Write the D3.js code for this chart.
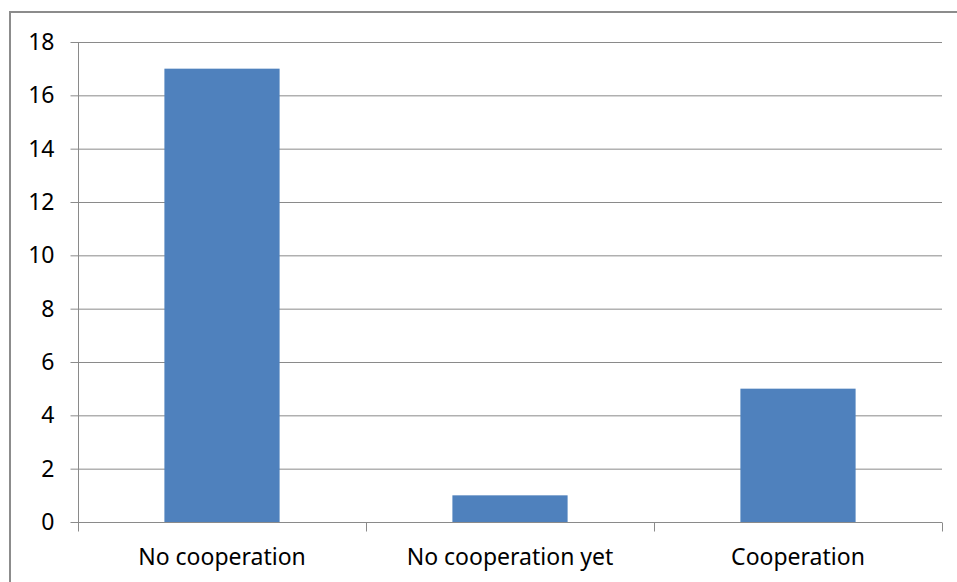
<!DOCTYPE html>
<html>
<head>
<meta charset="utf-8">
<script src="https://cdn.jsdelivr.net/npm/d3@7"></script>
<style>
  body { margin: 0; background: #fff; }
  svg { display: block; }
  text { font-family: "Noto Sans", "Open Sans", sans-serif; fill: #000; }
</style>
</head>
<body>
<div id="chart"></div>
<script>
var categories = ["No cooperation", "No cooperation yet", "Cooperation"];
var values = [17, 1, 5];
var yTicks = [0, 2, 4, 6, 8, 10, 12, 14, 16, 18];

var width = 957, height = 582;
var margin = { top: 42, right: 15, bottom: 60, left: 78 };

var svg = d3.select('#chart').append('svg')
    .attr('width', width)
    .attr('height', height);

// outer frame (runs off the right and bottom)
svg.append('rect')
    .attr('x', 10).attr('y', 12)
    .attr('width', width + 10).attr('height', height + 10)
    .attr('fill', 'none')
    .attr('stroke', '#8c8c8c')
    .attr('stroke-width', 2);

var x = d3.scaleBand()
    .domain(categories)
    .range([margin.left, width - margin.right])
    .paddingInner(0.6)
    .paddingOuter(0.3);

var y = d3.scaleLinear()
    .domain([0, 18])
    .range([height - margin.bottom, margin.top]);

// gridlines
svg.append('g')
    .selectAll('line')
    .data(yTicks.filter(function (d) { return d > 0; }))
    .enter()
    .append('line')
    .attr('x1', margin.left).attr('x2', width - margin.right)
    .attr('y1', function (d) { return y(d) + 0.5; })
    .attr('y2', function (d) { return y(d) + 0.5; })
    .attr('stroke', '#8a8a8a')
    .attr('stroke-width', 1);

// bars
svg.append('g')
    .selectAll('rect')
    .data(values)
    .enter()
    .append('rect')
    .attr('x', function (d, i) { return x(categories[i]); })
    .attr('width', x.bandwidth())
    .attr('y', function (d) { return y(d); })
    .attr('height', function (d) { return y(0) - y(d); })
    .attr('fill', '#4f81bd');

// y axis
var yAxis = svg.append('g')
    .attr('transform', 'translate(' + (margin.left + 0.5) + ',0)')
    .call(d3.axisLeft(y).tickValues(yTicks).tickSize(8).tickPadding(16));
yAxis.selectAll('line, path').attr('stroke', '#8a8a8a');
yAxis.selectAll('text').style('font-size', '23px');
yAxis.select('.domain').attr('d', 'M0,' + y(18) + 'V' + y(0));

// x axis with ticks between categories
var xg = svg.append('g')
    .attr('transform', 'translate(0,' + (y(0) + 0.5) + ')');
xg.append('line')
    .attr('x1', margin.left).attr('x2', width - margin.right)
    .attr('stroke', '#8a8a8a');
var bounds = [margin.left].concat(categories.map(function (c) {
    return x(c) + x.bandwidth() + x.step() * x.paddingInner() / 2;
}));
bounds[bounds.length - 1] = width - margin.right;
xg.selectAll('.tk')
    .data(bounds)
    .enter()
    .append('line')
    .attr('x1', function (d) { return Math.round(d) + 0.5; })
    .attr('x2', function (d) { return Math.round(d) + 0.5; })
    .attr('y1', 0).attr('y2', 9)
    .attr('stroke', '#8a8a8a');
xg.selectAll('text')
    .data(categories)
    .enter()
    .append('text')
    .attr('x', function (d) { return x(d) + x.bandwidth() / 2; })
    .attr('y', 42)
    .attr('text-anchor', 'middle')
    .style('font-size', '23px')
    .text(function (d) { return d; });
</script>
</body>
</html>
